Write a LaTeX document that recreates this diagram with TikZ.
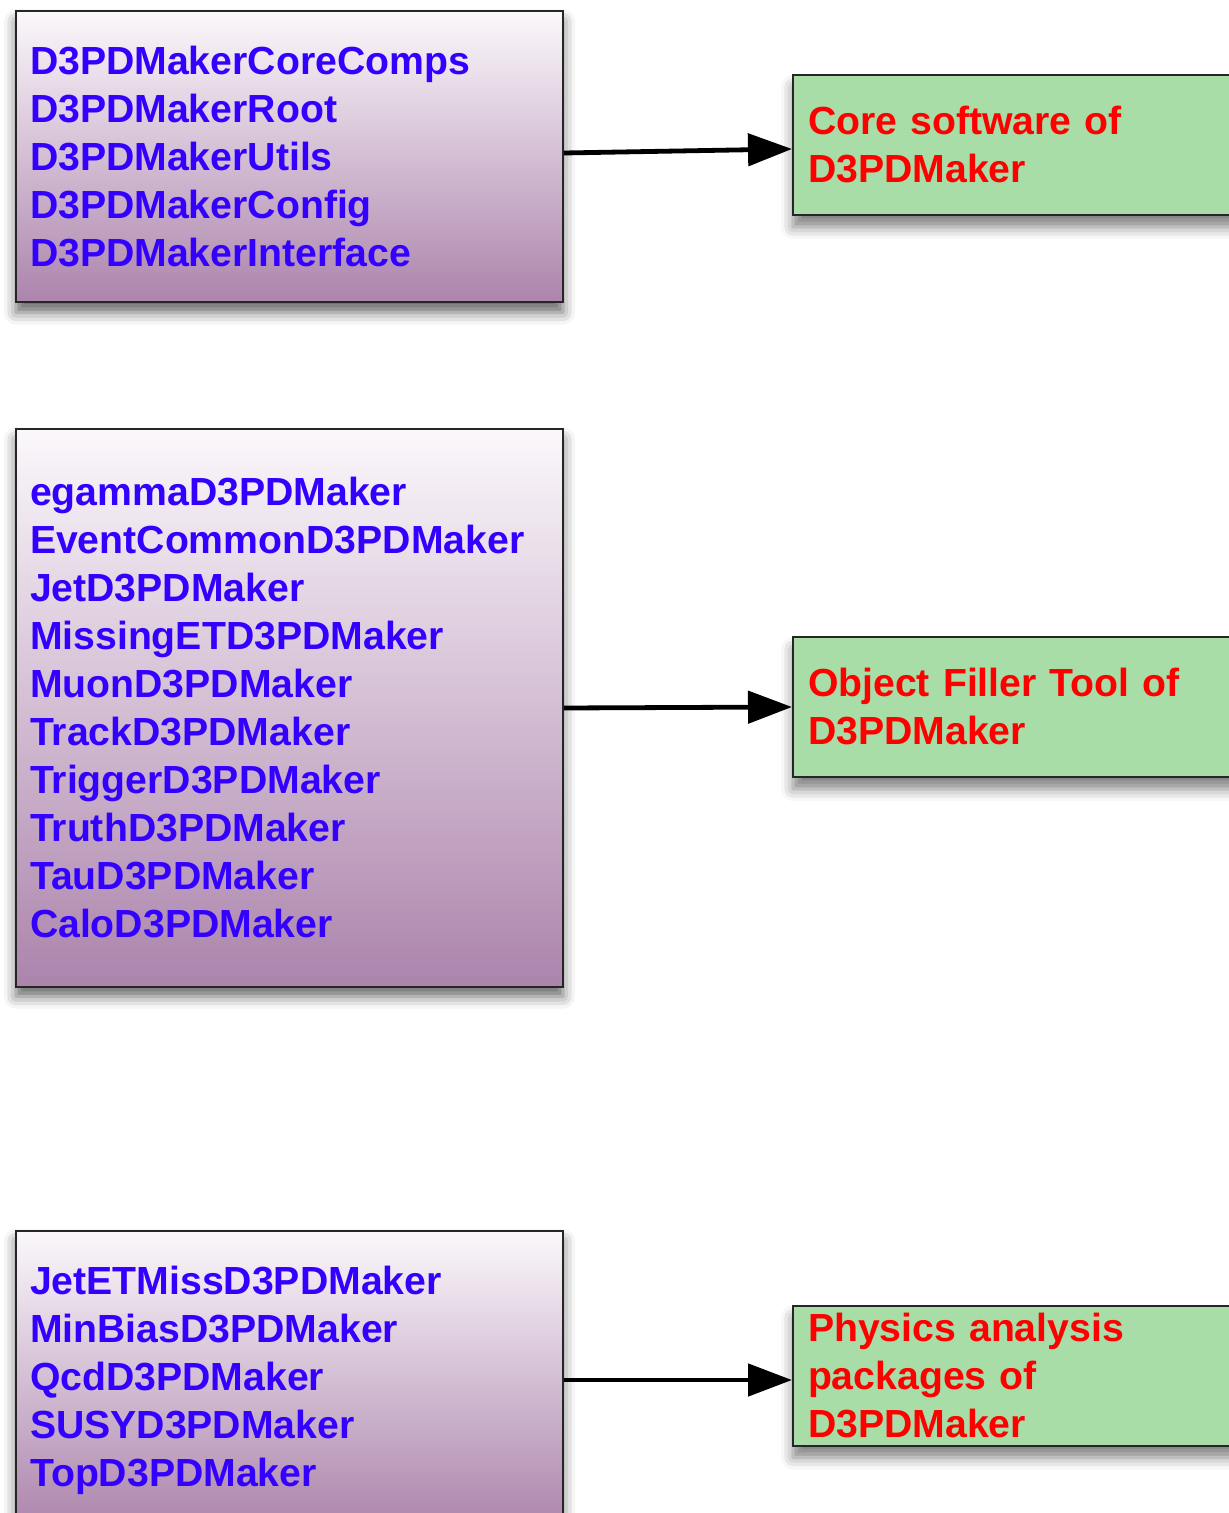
\documentclass[tikz,border=0pt]{standalone}
\usepackage{fontspec}
\setmainfont{Liberation Sans}
\usetikzlibrary{arrows.meta,shadows.blur}

\definecolor{pkgblue}{RGB}{51,0,255}
\definecolor{notered}{RGB}{255,0,0}
\definecolor{pkgtop}{RGB}{251,248,251}
\definecolor{pkgbottom}{RGB}{172,132,172}
\definecolor{notegreen}{RGB}{168,221,168}

\tikzset{
  pkgbox/.style={draw=black!85, line width=1pt, top color=pkgtop, bottom color=pkgbottom,
    text=pkgblue, font=\bfseries\fontsize{19.6}{24}\selectfont, align=left,
    text width=259.5pt, inner xsep=7pt, inner ysep=0pt,
    blur shadow={shadow xshift=0pt, shadow yshift=-5pt, shadow blur radius=6pt, shadow opacity=60}},
  notebox/.style={draw=black!85, line width=1pt, fill=notegreen,
    text=notered, font=\bfseries\fontsize{19.6}{24}\selectfont, align=left,
    text width=238.5pt, inner xsep=7.5pt, inner ysep=0pt, minimum height=70pt,
    blur shadow={shadow xshift=0pt, shadow yshift=-6pt, shadow blur radius=6pt, shadow opacity=50}},
  feeds/.style={line width=2.4pt, -{Triangle[length=22pt,width=16pt]}}
}

\begin{document}
\begin{tikzpicture}[x=0.5pt,y=-0.5pt]
\useasboundingbox (0,0) rectangle (1229,1513);
\clip (0,0) rectangle (1229,1513);

%Package groups
\node[pkgbox, minimum height=145.5pt] (core) at (289.5,157)
  {D3PDMakerCoreComps\\D3PDMakerRoot\\D3PDMakerUtils\\D3PDMakerConfig\\D3PDMakerInterface};
\node[pkgbox, minimum height=278.5pt] (filler) at (289.5,708)
  {egammaD3PDMaker\\EventCommonD3PDMaker\\JetD3PDMaker\\MissingETD3PDMaker\\MuonD3PDMaker\\TrackD3PDMaker\\TriggerD3PDMaker\\TruthD3PDMaker\\TauD3PDMaker\\CaloD3PDMaker};
\node[pkgbox, minimum height=149pt] (physics) at (289.5,1380)
  {JetETMissD3PDMaker\\MinBiasD3PDMaker\\QcdD3PDMaker\\SUSYD3PDMaker\\TopD3PDMaker};

%Notes
\node[notebox] (corenote) at (1046.5,145) {Core software of\\D3PDMaker};
\node[notebox] (fillernote) at (1046.5,707) {Object Filler Tool of\\D3PDMaker};
\node[notebox] (physicsnote) at (1046.5,1375.5) {Physics analysis\\packages of\\D3PDMaker};

%Arrows
\draw[feeds] ([yshift=2pt]core.east) -- ([yshift=-2pt]corenote.west);
\draw[feeds] (filler.east) -- (fillernote.west);
\draw[feeds] (physics.east) -- (physics.east -| physicsnote.west);
\end{tikzpicture}
\end{document}
